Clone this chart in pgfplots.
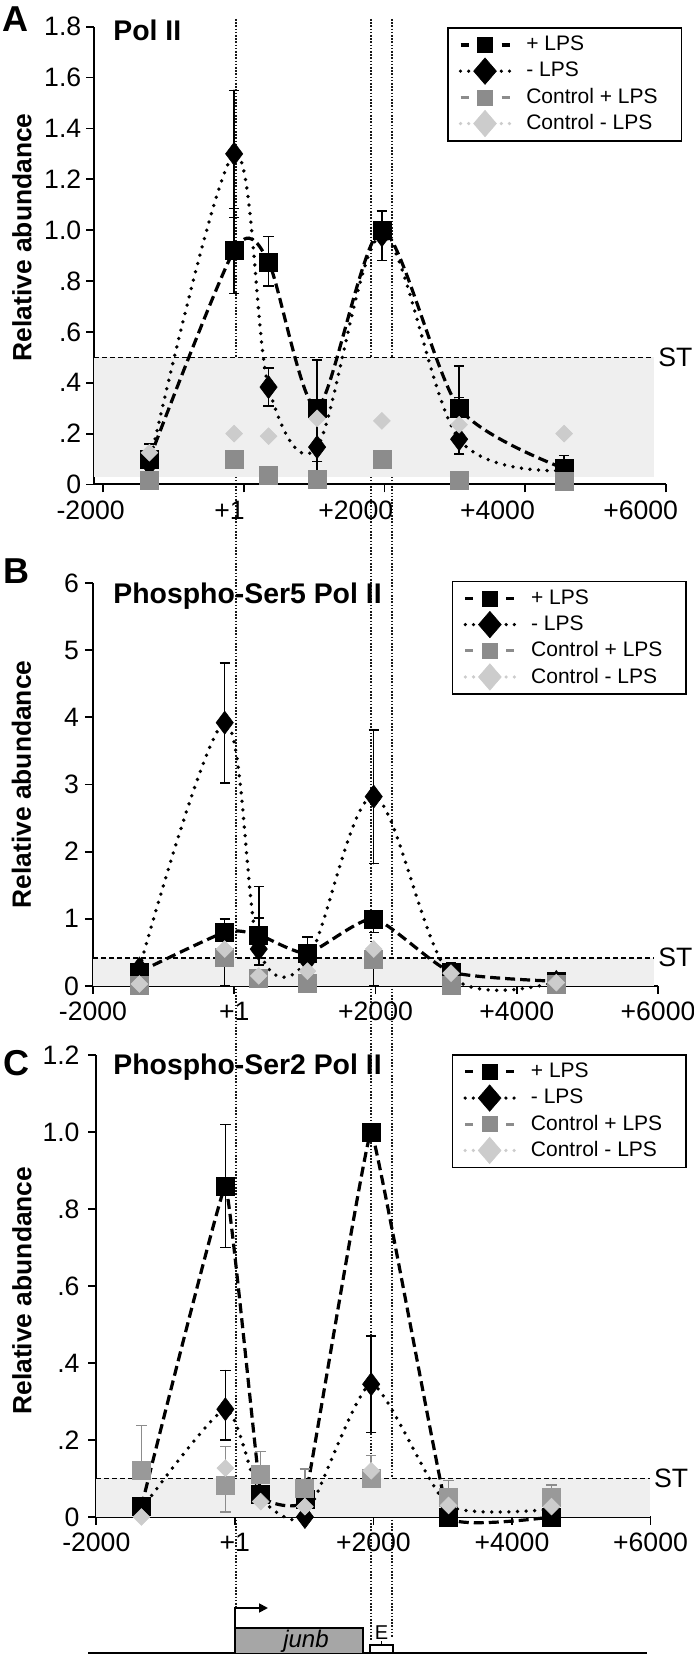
\documentclass[border=0pt]{standalone}
\usepackage{pgfplots}
\pgfplotsset{compat=1.18}
\usepackage{fontspec}
\setmainfont{Liberation Sans}
\usetikzlibrary{arrows.meta}
\definecolor{ctrlp}{HTML}{8C8C8C}
\definecolor{ctrlpc}{HTML}{999999}
\definecolor{ctrlm}{HTML}{CCCCCC}
\definecolor{shadec}{HTML}{EFEFEF}
\newcommand{\tickfont}{\fontsize{13.3}{14}\selectfont}

\pgfplotsset{
  panel/.style={
    scale only axis, clip=false,
    axis x line*=bottom, axis y line*=left,
    axis line style={line width=1pt, -},
    tick align=outside,
    major tick length=4pt,
    tick style={line width=0.9pt, black},
    tick label style={font=\tickfont},
    xticklabel style={inner sep=0pt, yshift=-4pt},
    ylabel={Relative abundance},
    ylabel style={font=\bfseries\fontsize{13.2}{14}\selectfont, anchor=center},
    legend style={draw=black, line width=0.8pt, inner xsep=5.5pt, inner ysep=2pt, anchor=north west,
       font=\fontsize{10.5}{12}\selectfont, cells={anchor=west},
       nodes={inner sep=0pt, minimum height=13pt}},
    legend image code/.code={\draw[mark repeat=2, mark phase=2, #1] plot coordinates {(0pt,0pt) (12.25pt,0pt) (24.5pt,0pt)};},
  },
  plp/.style={black, line width=1.6pt, dash pattern=on 5pt off 2.5pt, mark=square*, mark size=4.5pt,
     mark options={solid, line width=0.3pt, fill=black}, smooth, tension=0.5},
  mlp/.style={black, line width=1.9pt, line cap=round, dash pattern=on 0pt off 4.3pt, mark=diamond*, mark size=5.75pt,
     mark options={solid, line width=0.3pt, fill=black}, smooth, tension=0.55},
  cpl/.style={only marks, mark=square*, mark size=4.5pt, mark options={solid, fill=ctrlp, draw=ctrlp, line width=0.3pt}},
  cml/.style={only marks, mark=diamond*, mark size=4.2pt, mark options={solid, fill=ctrlm, draw=ctrlm, line width=0.3pt, xscale=1.33}},
  eb/.style={/pgfplots/error bars/y dir=both, /pgfplots/error bars/y explicit,
     /pgfplots/error bars/error bar style={line width=0.75pt, solid, black},
     /pgfplots/error bars/error mark options={rotate=90, line width=0.75pt, mark size=2.6pt, solid, black}},
  ebg/.style={/pgfplots/error bars/y dir=both, /pgfplots/error bars/y explicit,
     /pgfplots/error bars/error bar style={line width=0.75pt, solid, ctrlp},
     /pgfplots/error bars/error mark options={rotate=90, line width=0.75pt, mark size=2.6pt, solid, ctrlp}},
  lplp/.style={black, line width=1.6pt, dash pattern=on 4pt off 16.5pt, mark=square*, mark size=3.75pt,
     mark options={solid, line width=0.3pt, fill=black}},
  lmlp/.style={black, line width=1.8pt, line cap=round, dash pattern=on 0pt off 4.08pt, mark=diamond*, mark size=6.6pt,
     mark options={solid, fill=black, line width=0.3pt, xscale=1.15}},
  lcpl/.style={ctrlp, line width=1.6pt, dash pattern=on 4pt off 16.5pt, mark=square*, mark size=3.75pt,
     mark options={solid, fill=ctrlp, draw=ctrlp, line width=0.3pt}},
  lcml/.style={ctrlm, line width=1.8pt, line cap=round, dash pattern=on 0pt off 4.08pt, mark=diamond*, mark size=6.6pt,
     mark options={solid, fill=ctrlm, draw=ctrlm, line width=0.3pt, xscale=1.15}},
}
\newcommand{\legents}{%
  \addlegendimage{lplp}\addlegendentry{\hspace*{7.5pt}\makebox[72pt][l]{+ LPS}}
  \addlegendimage{lmlp}\addlegendentry{\hspace*{7.5pt}\makebox[72pt][l]{- LPS}}
  \addlegendimage{lcpl}\addlegendentry{\hspace*{7.5pt}\makebox[72pt][l]{Control + LPS}}
  \addlegendimage{lcml}\addlegendentry{\hspace*{7.5pt}\makebox[72pt][l]{Control - LPS}}
}

\begin{document}
\begin{tikzpicture}
\path[use as bounding box] (0,0) rectangle (346.5pt,828pt);

% vertical guide lines
\draw[line width=0.55pt, black!90, dash pattern=on 0.8pt off 0.8pt] (118pt,818.5pt) -- (118pt,24pt);
\draw[line width=0.55pt, black!90, dash pattern=on 0.8pt off 0.8pt] (185.5pt,818.5pt) -- (185.5pt,8pt);
\draw[line width=0.55pt, black!90, dash pattern=on 0.8pt off 0.8pt] (196pt,818.5pt) -- (196pt,9.5pt);

% ---------------- Panel A ----------------
\begin{axis}[panel, at={(47pt,585.75pt)}, anchor=south west, width=286pt, height=228.9pt,
  xmin=-2130, xmax=6000, ymin=0, ymax=1.8,
  yticklabel style={inner sep=0pt, xshift=-2.2pt},
  ytick={0,0.2,0.4,0.6,0.8,1,1.2,1.4,1.6,1.8},
  yticklabels={0,.2,.4,.6,.8,1.0,1.2,1.4,1.6,1.8},
  xtick={-2000,0,2000,4000,6000},
  xticklabels={{\makebox[0pt]{-2000\hspace*{12.5pt}}},{\makebox[0pt]{+1\hspace*{14.3pt}}},{\makebox[0pt]{+2000\hspace*{28.8pt}}},{\makebox[0pt]{+4000\hspace*{27.8pt}}},{\makebox[0pt]{+6000\hspace*{25.3pt}}}},
  ylabel style={at={(axis description cs:-0.126,0.54)}},
  legend style={at={(axis description cs:0.617,0.999)}},
]
\fill[shadec] (axis cs:-2130,0.031) rectangle (axis cs:5829,0.5);
\addplot[black, line width=0.8pt, dash pattern=on 2.5pt off 1.5pt, forget plot] coordinates {(-2130,0.5) (5829,0.5)};
\node[anchor=west, font=\tickfont, inner sep=0pt, xshift=2pt] at (axis cs:5829,0.5) {ST};
\legents
\addplot[plp, tension=0.45, forget plot, eb] coordinates {
 (-1342,0.10) += (0,0.06) -= (0,0)
 (-138,0.92) += (0,0.165) -= (0,0.17)
 (351,0.875) += (0,0.10) -= (0,0.095)
 (1041,0.30) += (0,0.19) -= (0,0.21)
 (1962,1.00) += (0,0.075) -= (0,0.12)
 (3060,0.30) += (0,0.165) -= (0,0.18)
 (4552,0.063) += (0,0.05) -= (0,0)
};
\addplot[mlp, forget plot, eb] coordinates {
 (-1342,0.08) += (0,0) -= (0,0)
 (-138,1.30) += (0,0.25) -= (0,0.25)
 (351,0.383) += (0,0.075) -= (0,0.075)
 (1041,0.147) += (0,0) -= (0,0.10)
 (1962,0.98) += (0,0) -= (0,0)
 (3060,0.178) += (0,0.165) -= (0,0)
 (4552,0.055) += (0,0) -= (0,0)
};
\addplot[cpl, forget plot] coordinates {(-1342,0.017) (-138,0.10) (351,0.035) (1041,0.02) (1962,0.10) (3060,0.015) (4552,0.013)};
\addplot[cml, forget plot] coordinates {(-1342,0.125) (-138,0.20) (351,0.19) (1041,0.26) (1962,0.25) (3060,0.235) (4552,0.20)};
\end{axis}

% ---------------- Panel B ----------------
\begin{axis}[panel, at={(46.5pt,335pt)}, anchor=south west, width=282.5pt, height=201.5pt,
  xmin=-2000, xmax=6000, ymin=0, ymax=6,
  yticklabel style={inner sep=0pt, xshift=-2.8pt},
  ytick={0,1,2,3,4,5,6}, yticklabels={0,1,2,3,4,5,6},
  xtick={-2000,0,2000,4000,6000}, xticklabels={-2000,+1,+2000,+4000,+6000},
  ylabel style={at={(axis description cs:-0.1265,0.5)}},
  legend style={at={(axis description cs:0.635,1.006)}},
]
\fill[shadec] (axis cs:-2000,0) rectangle (axis cs:5943,0.42);
\addplot[black, line width=0.8pt, dash pattern=on 2.5pt off 1.5pt, forget plot] coordinates {(-2000,0.42) (5943,0.42)};
\node[anchor=west, font=\tickfont, inner sep=0pt, xshift=2pt] at (axis cs:5943,0.42) {ST};
\legents
\addplot[plp, tension=0.35, forget plot, eb] coordinates {
 (-1343,0.21) += (0,0) -= (0,0)
 (-135,0.80) += (0,0.20) -= (0,0)
 (347,0.76) += (0,0.25) -= (0,0)
 (1036,0.49) += (0,0.24) -= (0,0)
 (1975,1.00) += (0,0) -= (0,0.20)
 (3070,0.21) += (0,0.14) -= (0,0)
 (4560,0.07) += (0,0) -= (0,0)
};
\addplot[mlp, forget plot, eb] coordinates {
 (-1343,0.26) += (0,0) -= (0,0)
 (-135,3.92) += (0,0.89) -= (0,0.90)
 (347,0.55) += (0,0.93) -= (0,0.24)
 (1036,0.38) += (0,0) -= (0,0)
 (1975,2.82) += (0,0.99) -= (0,1.00)
 (3070,0.15) += (0,0) -= (0,0)
 (4560,0.06) += (0,0) -= (0,0)
};
\addplot[cpl, forget plot, eb] coordinates {
 (-1343,0.01) += (0,0) -= (0,0)
 (-135,0.42) += (0,0) -= (0,0.42)
 (347,0.12) += (0,0) -= (0,0)
 (1036,0.045) += (0,0) -= (0,0)
 (1975,0.39) += (0,0) -= (0,0.39)
 (3070,0.01) += (0,0) -= (0,0)
 (4560,0.02) += (0,0) -= (0,0)
};
\addplot[cml, forget plot] coordinates {(-1343,0.03) (-135,0.55) (347,0.15) (1036,0.22) (1975,0.55) (3070,0.19) (4560,0.05)};
\end{axis}

% ---------------- Panel C ----------------
\begin{axis}[panel, at={(48.15pt,69.5pt)}, anchor=south west, width=277.1pt, height=231pt,
  xmin=-2000, xmax=6000, ymin=0, ymax=1.2,
  yticklabel style={inner sep=0pt, xshift=-4.2pt},
  ytick={0,0.2,0.4,0.6,0.8,1,1.2}, yticklabels={0,.2,.4,.6,.8,1.0,1.2},
  xtick={-2000,0,2000,4000,6000}, xticklabels={-2000,+1,+2000,+4000,+6000},
  ylabel style={at={(axis description cs:-0.134,0.49)}},
  legend style={at={(axis description cs:0.641,1.002)}},
]
\fill[shadec] (axis cs:-2000,0) rectangle (axis cs:5990,0.1);
\addplot[black, line width=0.8pt, dash pattern=on 2.5pt off 1.5pt, forget plot] coordinates {(-2000,0.1) (5990,0.1)};
\node[anchor=west, font=\tickfont, inner sep=0pt, xshift=2pt] at (axis cs:5990,0.1) {ST};
\legents
\addplot[plp, tension=0.12, forget plot, eb] coordinates {
 (-1349,0.027) += (0,0) -= (0,0)
 (-137,0.86) += (0,0.16) -= (0,0.16)
 (373,0.06) += (0,0) -= (0,0)
 (1011,0.045) += (0,0) -= (0,0)
 (1968,1.00) += (0,0) -= (0,0)
 (3085,0.0) += (0,0) -= (0,0)
 (4571,0.0) += (0,0) -= (0,0)
};
\addplot[mlp, tension=0.35, forget plot, eb] coordinates {
 (-1349,0.02) += (0,0) -= (0,0)
 (-137,0.28) += (0,0.10) -= (0,0.08)
 (373,0.05) += (0,0) -= (0,0)
 (1011,0.0) += (0,0) -= (0,0)
 (1968,0.345) += (0,0.125) -= (0,0.125)
 (3085,0.03) += (0,0) -= (0,0)
 (4571,0.02) += (0,0) -= (0,0)
};
\addplot[cpl, mark options={fill=ctrlpc, draw=ctrlpc}, forget plot, ebg] coordinates {
 (-1349,0.122) += (0,0.116) -= (0,0)
 (-137,0.083) += (0,0.10) -= (0,0.07)
 (373,0.11) += (0,0.06) -= (0,0)
 (1011,0.075) += (0,0.05) -= (0,0)
 (1968,0.10) += (0,0.06) -= (0,0)
 (3085,0.05) += (0,0.045) -= (0,0)
 (4571,0.05) += (0,0.033) -= (0,0)
};
\addplot[cml, forget plot] coordinates {(-1349,0.0) (-137,0.127) (373,0.04) (1011,0.027) (1968,0.12) (3085,0.03) (4571,0.027)};
\end{axis}

% panel letters and titles
\node[anchor=base west, inner sep=0pt, font=\bfseries\fontsize{18}{18}\selectfont] at (1pt,812pt) {A};
\node[anchor=base west, inner sep=0pt, font=\bfseries\fontsize{18}{18}\selectfont] at (1.5pt,536pt) {B};
\node[anchor=base west, inner sep=0pt, font=\bfseries\fontsize{18}{18}\selectfont] at (1.5pt,290pt) {C};
\node[anchor=base west, inner sep=0pt, font=\bfseries\fontsize{14.2}{14}\selectfont] at (56.5pt,807.5pt) {Pol II};
\node[anchor=base west, inner sep=0pt, font=\bfseries\fontsize{14.2}{14}\selectfont] at (56.5pt,526pt) {Phospho-Ser5 Pol II};
\node[anchor=base west, inner sep=0pt, font=\bfseries\fontsize{14.2}{14}\selectfont] at (56.5pt,290.5pt) {Phospho-Ser2 Pol II};

% gene diagram
\draw[line width=1pt] (44pt,1.25pt) -- (323.5pt,1.25pt);
\draw[line width=0.9pt, fill=black!35] (117.5pt,1.25pt) rectangle (181.5pt,14pt);
\node[font=\itshape\fontsize{12}{12}\selectfont, inner sep=0pt] at (153pt,7.3pt) {junb};
\draw[line width=0.9pt, -{Triangle[length=4.5pt,width=4.5pt]}] (117.5pt,14pt) -- (117.5pt,24pt) -- (134pt,24pt);
\node[font=\fontsize{10}{10}\selectfont, inner sep=0pt, anchor=base] at (190.8pt,8.2pt) {E};
\draw[line width=0.8pt] (185pt,2pt) -- (185pt,5.5pt) -- (196.5pt,5.5pt) -- (196.5pt,2pt);
\draw[line width=0.8pt] (190.75pt,5.5pt) -- (190.75pt,7.5pt);
\end{tikzpicture}
\end{document}
